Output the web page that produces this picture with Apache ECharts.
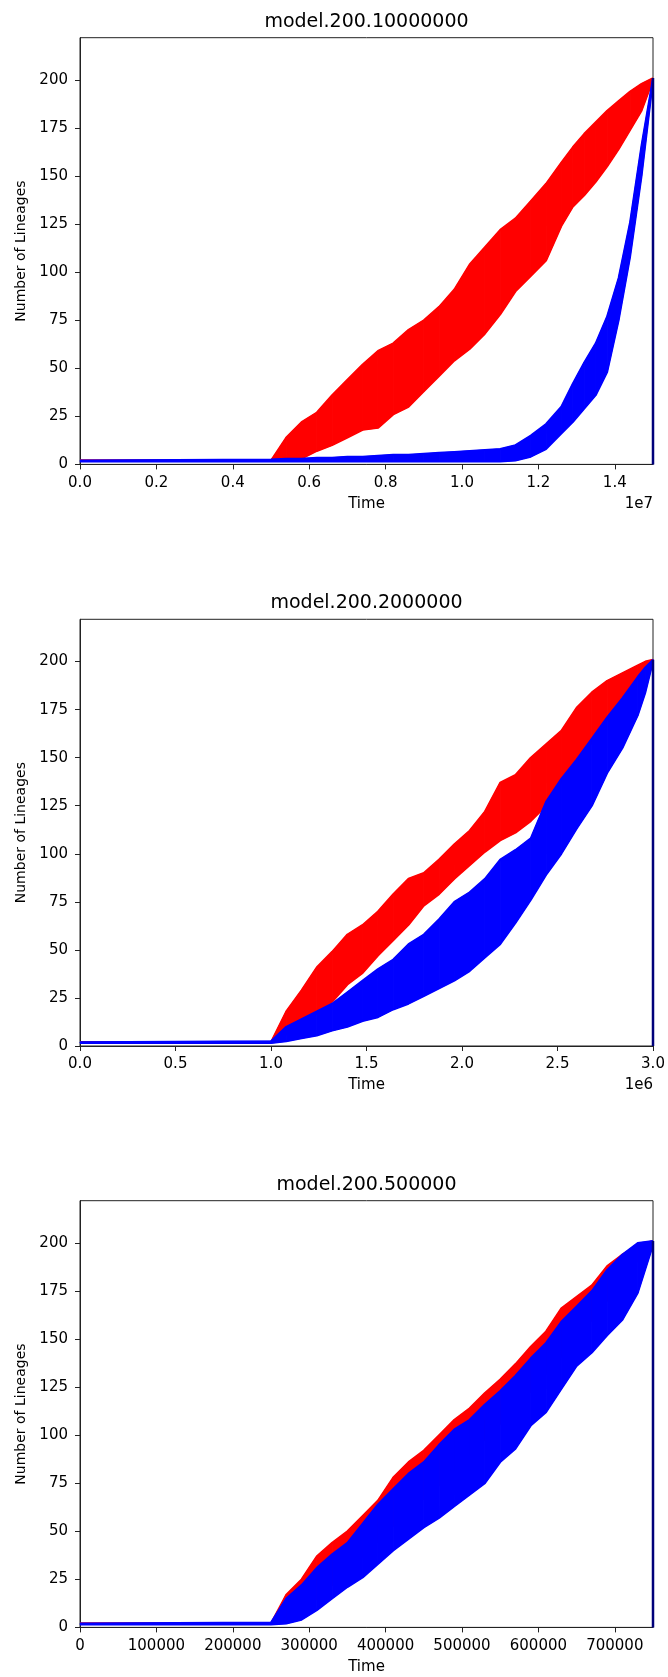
<!DOCTYPE html>
<html>
<head>
<meta charset="utf-8">
<script src="https://cdn.jsdelivr.net/npm/echarts@6/dist/echarts.min.js"></script>
<style>
html,body{margin:0;padding:0;background:#fff;}
#chart{width:668px;height:1677px;}
</style>
</head>
<body>
<div id="chart"></div>
<script>
// ================= DATA =================
const titles = ['model.200.10000000', 'model.200.2000000', 'model.200.500000'];
const offsetTexts = ['1e7', '1e6', ''];
const xMaxes = [1.5e7, 3e6, 750000];
const yMax = 222;
const yTicks = [0, 25, 50, 75, 100, 125, 150, 175, 200];

// x tick positions per panel
const p1XTicks = [0, 2e6, 4e6, 6e6, 8e6, 1e7, 1.2e7, 1.4e7];
const p2XTicks = [0, 5e5, 1e6, 1.5e6, 2e6, 2.5e6, 3e6];
const p3XTicks = [0, 100000, 200000, 300000, 400000, 500000, 600000, 700000];

// ---- Panel 1 (time in units of 1e7) ----
const p1Unit = 1e7;
const p1Time = [0, 0.50, 0.54, 0.58, 0.62, 0.66, 0.70, 0.74, 0.78, 0.82, 0.86, 0.90, 0.94, 0.98,
  1.02, 1.06, 1.10, 1.14, 1.18, 1.22, 1.26, 1.29, 1.32, 1.35, 1.38, 1.41, 1.44, 1.47, 1.50];
const p1RedHi = [2, 2, 14, 22, 27, 36, 44, 52, 59, 63, 70, 75, 82, 91,
  104, 113, 122, 128, 137, 146, 157, 165, 172, 178, 184, 189, 194, 198, 201];
const p1RedLo = [2, 2, 2, 3, 7, 10, 14, 18, 19, 26, 30, 38, 46, 54,
  60, 68, 78, 90, 98, 106, 124, 134, 140, 147, 155, 164, 174, 184, 200];
const p1BlueHi = [2, 2.5, 3, 3, 3.5, 3.5, 4, 4, 4.5, 5, 5, 5.5, 6, 6.5,
  7, 7.5, 8, 10, 15, 21, 30, 42, 53, 63, 77, 97, 126, 166, 201];
const p1BlueLo = [1.5, 1.5, 1.5, 1.5, 1.5, 1.5, 1.5, 1.5, 1.5, 1.5, 1.5, 1.5, 1.5, 1.5,
  1.5, 1.5, 1.5, 2, 4, 8, 16, 22, 29, 36, 48, 75, 108, 150, 200];

// ---- Panel 2 (time in units of 1e6) ----
const p2Unit = 1e6;
const p2Time = [0, 1.00, 1.08, 1.16, 1.24, 1.32, 1.40, 1.48, 1.56, 1.64, 1.72, 1.80, 1.88, 1.96,
  2.04, 2.12, 2.20, 2.28, 2.36, 2.44, 2.52, 2.60, 2.68, 2.76, 2.84, 2.92, 2.96, 3.00];
const p2RedHi = [2, 2, 18, 29, 41, 49, 58, 63, 70, 79, 87, 90, 97, 105,
  112, 122, 137, 141, 150, 157, 164, 176, 184, 190, 194, 198, 200, 201];
const p2RedLo = [2, 2, 6, 12, 17, 23, 32, 38, 47, 55, 63, 73, 79, 87,
  94, 101, 107, 111, 117, 125, 137, 148, 158, 170, 181, 192, 196, 201];
const p2BlueHi = [2, 2.5, 10, 14, 18, 22, 28, 34, 40, 45, 53, 58, 66, 75,
  80, 87, 97, 102, 108, 127, 139, 149, 160, 171, 181, 192, 197, 201];
const p2BlueLo = [1.5, 1.5, 2.5, 4, 5.5, 8, 10, 13, 15, 19, 22, 26, 30, 34,
  39, 46, 53, 64, 76, 89, 100, 113, 125, 142, 155, 172, 184, 200];

// ---- Panel 3 (time in raw units) ----
const p3Unit = 1;
const p3Time = [0, 250000, 270000, 290000, 310000, 330000, 350000, 370000, 390000, 410000,
  430000, 450000, 470000, 490000, 510000, 530000, 550000, 570000, 590000, 610000,
  630000, 650000, 670000, 690000, 710000, 730000, 750000];
const p3RedHi = [2, 2, 17, 25, 37, 44, 50, 58, 66, 78, 86, 92, 100, 108,
  114, 122, 129, 137, 146, 154, 166, 172, 178, 188, 194, 199, 201];
const p3RedLo = [2, 2, 4, 8, 15, 22, 30, 37, 45, 53, 60, 67, 74, 82,
  90, 98, 106, 114, 123, 132, 141, 151, 160, 170, 181, 191, 201];
const p3BlueHi = [2, 2.5, 15, 22, 31, 38, 44, 54, 64, 72, 80, 86, 95, 103,
  108, 116, 123, 131, 140, 148, 159, 167, 175, 186, 194, 200, 201];
const p3BlueLo = [1.5, 1.5, 2, 4, 9, 15, 21, 26, 33, 40, 46, 52, 57, 63,
  69, 75, 86, 93, 105, 112, 124, 136, 143, 152, 160, 174, 199];

// final vertical drop at the end of each run
const endLineY = [0, 201];

// ================= LAYOUT / STYLE =================
const RED = '#ff0000', BLUE = '#0000ff', NAVY = '#00007a';
const FONT = "'DejaVu Sans', sans-serif";
const gridLeft = 80, gridWidth = 573, gridHeight = 426.7;
const gridTops = [37.7, 619.3, 1200.7];

const panels = [
  { time: p1Time, unit: p1Unit, xTicks: p1XTicks, fmt: v => (v / 1e7).toFixed(1),
    redHi: p1RedHi, redLo: p1RedLo, blueHi: p1BlueHi, blueLo: p1BlueLo },
  { time: p2Time, unit: p2Unit, xTicks: p2XTicks, fmt: v => (v / 1e6).toFixed(1),
    redHi: p2RedHi, redLo: p2RedLo, blueHi: p2BlueHi, blueLo: p2BlueLo },
  { time: p3Time, unit: p3Unit, xTicks: p3XTicks, fmt: v => String(Math.round(v)),
    redHi: p3RedHi, redLo: p3RedLo, blueHi: p3BlueHi, blueLo: p3BlueLo }
];

function bandRenderer(color) {
  return function (params, api) {
    const a = api.coord([api.value(0), api.value(1)]);
    const b = api.coord([api.value(0), api.value(2)]);
    const c = api.coord([api.value(3), api.value(5)]);
    const d = api.coord([api.value(3), api.value(4)]);
    return {
      type: 'polygon',
      shape: { points: [a, b, c, d] },
      style: { fill: color, stroke: color, lineWidth: 1 }
    };
  };
}

const grids = [], xAxes = [], yAxes = [], series = [], graphics = [];

panels.forEach((p, i) => {
  const t = p.time.map(v => v * p.unit);
  grids.push({ left: gridLeft, top: gridTops[i], width: gridWidth, height: gridHeight,
    show: true, borderColor: '#222', borderWidth: 1, backgroundColor: '#fff' });

  xAxes.push({
    gridIndex: i, type: 'value', min: 0, max: xMaxes[i],
    name: 'Time', nameLocation: 'middle', nameGap: 32,
    nameTextStyle: { fontSize: 15, color: '#000', fontFamily: FONT },
    axisLine: { show: true, onZero: false, lineStyle: { color: '#222', width: 1 } },
    axisTick: { show: true, length: 5, customValues: p.xTicks, lineStyle: { color: '#222', width: 1 } },
    axisLabel: { customValues: p.xTicks, formatter: p.fmt, fontSize: 15, color: '#000',
      fontFamily: FONT, margin: 11 },
    splitLine: { show: false }
  });
  yAxes.push({
    gridIndex: i, type: 'value', min: 0, max: yMax,
    name: 'Number of Lineages', nameLocation: 'middle', nameRotate: 90, nameGap: 42,
    nameTextStyle: { fontSize: 14, color: '#000', fontFamily: FONT },
    axisLine: { show: true, onZero: false, lineStyle: { color: '#222', width: 1 } },
    axisTick: { show: true, length: 5, customValues: yTicks, lineStyle: { color: '#222', width: 1 } },
    axisLabel: { customValues: yTicks, fontSize: 15, color: '#000', fontFamily: FONT, margin: 12 },
    splitLine: { show: false }
  });

  const addGroup = (hi, lo, color, zBase) => {
    const seg = [];
    for (let k = 0; k < t.length - 1; k++) {
      seg.push([t[k], lo[k], hi[k], t[k + 1], lo[k + 1], hi[k + 1]]);
    }
    series.push({
      type: 'custom', xAxisIndex: i, yAxisIndex: i, silent: true, z: zBase,
      renderItem: bandRenderer(color), data: seg,
      encode: { x: [0, 3], y: [1, 2, 4, 5] }
    });
    [hi, lo].forEach(arr => {
      series.push({
        type: 'line', xAxisIndex: i, yAxisIndex: i, silent: true, z: zBase + 1,
        symbol: 'none', showSymbol: false,
        lineStyle: { color: color, width: 2 },
        data: t.map((x, k) => [x, arr[k]])
      });
    });
  };
  addGroup(p.redHi, p.redLo, RED, 2);
  addGroup(p.blueHi, p.blueLo, BLUE, 4);

  series.push({
    type: 'line', xAxisIndex: i, yAxisIndex: i, silent: true, z: 7,
    symbol: 'none', showSymbol: false,
    lineStyle: { color: NAVY, width: 2.5 },
    data: endLineY.map(y => [xMaxes[i], y])
  });

  const cx = gridLeft + gridWidth / 2;
  graphics.push({
    type: 'text', x: cx, y: gridTops[i] - 16,
    style: { text: titles[i], fill: '#000', fontSize: 19, fontFamily: FONT,
      textAlign: 'center', textVerticalAlign: 'middle', align: 'center', verticalAlign: 'middle' }
  });
  if (offsetTexts[i]) {
    graphics.push({
      type: 'text', x: gridLeft + gridWidth, y: gridTops[i] + gridHeight + 39.5,
      style: { text: offsetTexts[i], fill: '#000', fontSize: 15, fontFamily: FONT,
        textAlign: 'right', textVerticalAlign: 'middle', align: 'right', verticalAlign: 'middle' }
    });
  }
});

const chart = echarts.init(document.getElementById('chart'), null, { renderer: 'canvas' });
chart.setOption({
  backgroundColor: '#fff',
  animation: false,
  grid: grids,
  xAxis: xAxes,
  yAxis: yAxes,
  series: series,
  graphic: graphics
});
</script>
</body>
</html>
